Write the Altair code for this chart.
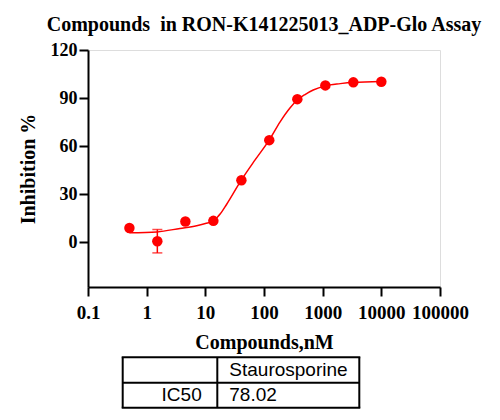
import altair as alt
import pandas as pd

# measured points (nM, % inhibition, SD)
conc_nM = [0.508, 1.52, 4.57, 13.7, 41.2, 123, 370, 1111, 3333, 10000]
inhibition = [8.8, 0.6, 12.9, 13.3, 38.7, 63.7, 89.3, 97.9, 99.8, 100.2]
sd = [0, 7.3, 0, 0, 0, 0, 0, 0, 0, 0]

# fitted curve
fit_x = [0.508, 1.5, 3.7, 7.1, 10, 13.7, 16, 18, 23, 41, 70, 124, 187, 277, 365, 500, 690, 1100, 2000, 3330, 10000]
fit_y = [5.8, 6.4, 8.6, 10.3, 11.6, 13.3, 15.6, 17.7, 23.5, 38.7, 51.2, 64, 75, 83.8, 88.6, 92.2, 95, 97.6, 99, 99.8, 100.4]

x_ticks = [0.1, 1, 10, 100, 1000, 10000, 100000]
y_ticks = [0, 30, 60, 90, 120]

table_header = ["", "Staurosporine"]
table_row = ["IC50", "78.02"]

title_text = "Compounds\u00a0 in RON-K141225013_ADP-Glo Assay"

red = "#FF0000"
serif = "Liberation Serif"
sans = "Liberation Sans"

pts = pd.DataFrame({"conc": conc_nM, "inh": inhibition, "sd": sd})
fit = pd.DataFrame({"conc": fit_x, "inh": fit_y})
err = pts[pts["sd"] > 0].copy()
err["lo"] = err["inh"] - err["sd"]
err["hi"] = err["inh"] + err["sd"]
caps = pd.concat([
    pd.DataFrame({"conc": err["conc"], "v": err["lo"]}),
    pd.DataFrame({"conc": err["conc"], "v": err["hi"]}),
])

x_scale = alt.Scale(type="log", domain=[0.1, 100000], nice=False)
y_scale = alt.Scale(domain=[-28, 120], nice=False, zero=False)

common_axis = dict(
    grid=False, domainColor="black", domainWidth=2, tickColor="black",
    tickWidth=2, tickSize=9, labelFont=serif,
    labelFontWeight="bold", labelColor="black", titleFont=serif,
    titleFontSize=20, titleFontWeight="bold", titleColor="black",
    labelFlush=False, labelOverlap=False,
)

x_axis = alt.Axis(
    title="Compounds,nM", values=x_ticks,
    labelExpr="datum.value < 1 ? '0.1' : format(datum.value, 'd')",
    labelFontSize=19, labelPadding=7, titlePadding=10, **common_axis)
y_axis = alt.Axis(
    title="Inhibition %", values=y_ticks, labelFontSize=18, labelPadding=2,
    titlePadding=12, **common_axis)

X = alt.X("conc:Q", scale=x_scale, axis=x_axis)
Y = alt.Y("inh:Q", scale=y_scale, axis=y_axis)

line = alt.Chart(fit).mark_line(color=red, strokeWidth=1.5, interpolate="monotone").encode(x=X, y=Y)
dots = alt.Chart(pts).mark_circle(color=red, opacity=1, size=110).encode(x=X, y=Y)
bars = alt.Chart(err).mark_rule(color=red, strokeWidth=1.5).encode(
    x=alt.X("conc:Q", scale=x_scale), y=alt.Y("lo:Q", scale=y_scale), y2="hi:Q")
capm = alt.Chart(caps).mark_tick(color=red, thickness=1.5, size=10, orient="horizontal").encode(
    x=alt.X("conc:Q", scale=x_scale), y=alt.Y("v:Q", scale=y_scale))

one = pd.DataFrame({"a": [0]})

def hrule(y, x1, x2):
    return alt.Chart(one).mark_rule(color="black", strokeWidth=2).encode(
        x=alt.value(x1), x2=alt.value(x2), y=alt.value(y))

def vrule(x, y1, y2):
    return alt.Chart(one).mark_rule(color="black", strokeWidth=2).encode(
        x=alt.value(x), y=alt.value(y1), y2=alt.value(y2))

tl, tm, tr = 34.7, 129.3, 271.3
tt, tmid, tb = 307.3, 332.7, 357.7
grid = [hrule(tt, tl - 1, tr + 1), hrule(tmid, tl, tr), hrule(tb, tl - 1, tr + 1),
        vrule(tl, tt, tb), vrule(tm, tt, tb), vrule(tr, tt, tb)]

def txt(s, x, y, align):
    return alt.Chart(pd.DataFrame({"t": [s]})).mark_text(
        font=sans, fontSize=19, color="black", align=align, baseline="alphabetic"
    ).encode(text="t:N", x=alt.value(x), y=alt.value(y))

texts = [
    txt(table_header[1], 141.3, 325.7, "left"),
    txt(table_row[0], 113.7, 350.7, "right"),
    txt(table_row[1], 141.3, 350.7, "left"),
]

chart = alt.layer(line, bars, capm, dots, *grid, *texts).properties(
    width=352, height=237,
    title=alt.TitleParams(text=title_text, font=serif, fontSize=20, fontWeight="bold",
                          anchor="middle", frame="group", offset=6, color="black"),
    autosize=alt.AutoSizeParams(type="none"),
    padding={"left": 80, "top": 42, "right": 52, "bottom": 126},
).configure_view(stroke=None).configure(background="white")

chart.save("out.html", embed_options={"renderer": "svg", "actions": False})
